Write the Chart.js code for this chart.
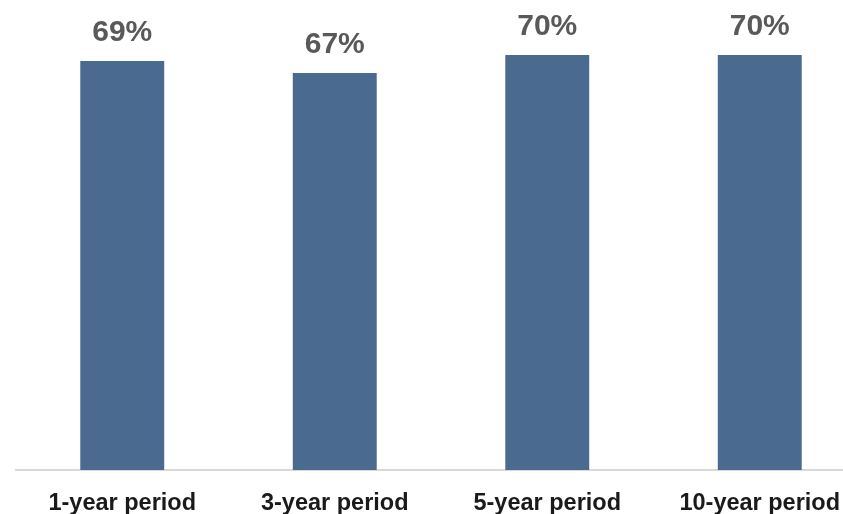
<!DOCTYPE html>
<html>
<head>
<meta charset="utf-8">
<script src="https://cdn.jsdelivr.net/npm/chart.js@4.4.1/dist/chart.umd.min.js"></script>
<style>
html,body{margin:0;padding:0;background:#fff;overflow:hidden;width:843px;height:514px;}
#wrap{position:absolute;left:0;top:0;width:866px;height:514px;}
</style>
</head>
<body>
<div id="wrap"><canvas id="c" width="866" height="514"></canvas></div>
<script>
const categories = ["1-year period", "3-year period", "5-year period", "10-year period"];
const values = [69, 67, 70, 70];
const valueLabels = ["69%", "67%", "70%", "70%"];

const barLabelPlugin = {
  id: 'barLabels',
  afterDatasetsDraw(chart) {
    const ctx = chart.ctx;
    const meta = chart.getDatasetMeta(0);
    ctx.save();
    ctx.font = 'bold 30px "Liberation Sans", Arial, sans-serif';
    ctx.fillStyle = '#595959';
    ctx.textAlign = 'center';
    ctx.textBaseline = 'alphabetic';
    meta.data.forEach((bar, i) => {
      ctx.fillText(valueLabels[i], bar.x, bar.y - 20);
    });
    ctx.restore();
  }
};

new Chart(document.getElementById('c'), {
  type: 'bar',
  data: {
    labels: categories,
    datasets: [{
      data: values,
      backgroundColor: '#4a6a8f',
      borderWidth: 0,
      barPercentage: 0.79,
      categoryPercentage: 0.5
    }]
  },
  options: {
    responsive: false,
    animation: false,
    layout: { padding: { left: 16, right: 0, top: 0, bottom: 0 } },
    plugins: { legend: { display: false }, tooltip: { enabled: false } },
    scales: {
      x: {
        grid: { display: false, drawTicks: false },
        border: { display: true, color: '#d9d9d9', width: 2 },
        afterFit(scale) { scale.height = 44; },
        ticks: {
          color: '#1a1a1a',
          font: { family: '"Liberation Sans", Arial, sans-serif', size: 23.5, weight: 'bold' },
          padding: 19,
          maxRotation: 0,
          autoSkip: false
        }
      },
      y: {
        display: false,
        min: 0,
        max: 79.3
      }
    }
  },
  plugins: [barLabelPlugin]
});
</script>
</body>
</html>
